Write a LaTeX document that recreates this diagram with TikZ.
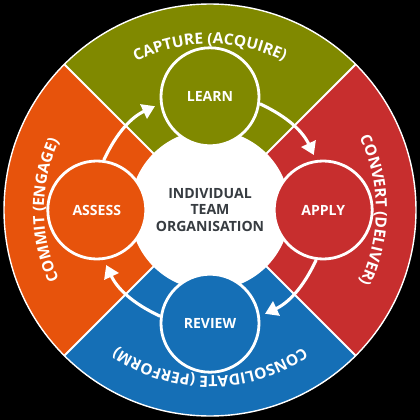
\documentclass[tikz,border=0pt]{standalone}
\usepackage{fontspec}
\setmainfont{Open Sans}
\usetikzlibrary{positioning}
\usetikzlibrary{arrows.meta}
\usetikzlibrary{decorations.text}

\definecolor{capturegreen}{RGB}{128,137,0}
\definecolor{convertred}{RGB}{199,46,46}
\definecolor{consolblue}{RGB}{21,111,182}
\definecolor{commitorange}{RGB}{231,83,12}
\definecolor{hubgrey}{RGB}{55,60,65}

\begin{document}
\begin{tikzpicture}[node distance=2.83cm, auto,
		stage/.style={circle, draw=white, line width=2pt, minimum size=2.45cm, inner sep=0pt, text=white, font=\fontsize{10}{12}\selectfont\bfseries},
		flow/.style={white, line width=2.2pt, -{Triangle[width=11pt,length=9pt]}, shorten >=4pt},
		ringlabel/.style={decorate, decoration={text along path, text align=center, text={|\fontsize{11}{13}\selectfont\bfseries\color{white}|#1}}}]
			\useasboundingbox[fill=black] (-5.25,-5.25) rectangle (5.25,5.25);

			% quadrants
			\fill[capturegreen] (0,0) -- (45:5.15) arc (45:135:5.15) -- cycle;
			\fill[commitorange] (0,0) -- (135:5.15) arc (135:225:5.15) -- cycle;
			\fill[consolblue] (0,0) -- (225:5.15) arc (225:315:5.15) -- cycle;
			\fill[convertred] (0,0) -- (315:5.15) arc (315:405:5.15) -- cycle;
			\foreach \a in {45,135,225,315}
				\draw[white, line width=1.4pt] (0,0) -- (\a:5.15);
			\draw[white, line width=1pt] (0,0) circle (5.15);

			% ring labels, read clockwise
			\path[ringlabel={CAPTURE (ACQUIRE)}] (135:4.15) arc (135:45:4.15);
			\path[ringlabel={CONVERT (DELIVER)}] (45:4.15) arc (45:-45:4.15);
			\path[ringlabel={CONSOLIDATE (PERFORM)}] (-45:4.15) arc (-45:-135:4.15);
			\path[ringlabel={COMMIT (ENGAGE)}] (225:4.15) arc (225:135:4.15);

			\node[circle, fill=white, minimum size=4cm, text=hubgrey, align=center, font=\fontsize{10}{12}\selectfont\bfseries] (hub) at (0,0) {INDIVIDUAL\\TEAM\\ORGANISATION};

			\node[stage, fill=capturegreen, above of=hub] (learn) {LEARN};
			\node[stage, fill=convertred, right of=hub] (apply) {APPLY};
			\node[stage, fill=consolblue, below of=hub] (review) {REVIEW};
			\node[stage, fill=commitorange, left of=hub] (assess) {ASSESS};

			\draw[flow] (assess.82) to[bend left=20] (learn.188);
			\draw[flow] (learn.-8) to[bend left=20] (apply.98);
			\draw[flow] (apply.-98) to[bend left=20] (review.8);
			\draw[flow] (review.172) to[bend left=20] (assess.-82);
		\end{tikzpicture}
\end{document}
